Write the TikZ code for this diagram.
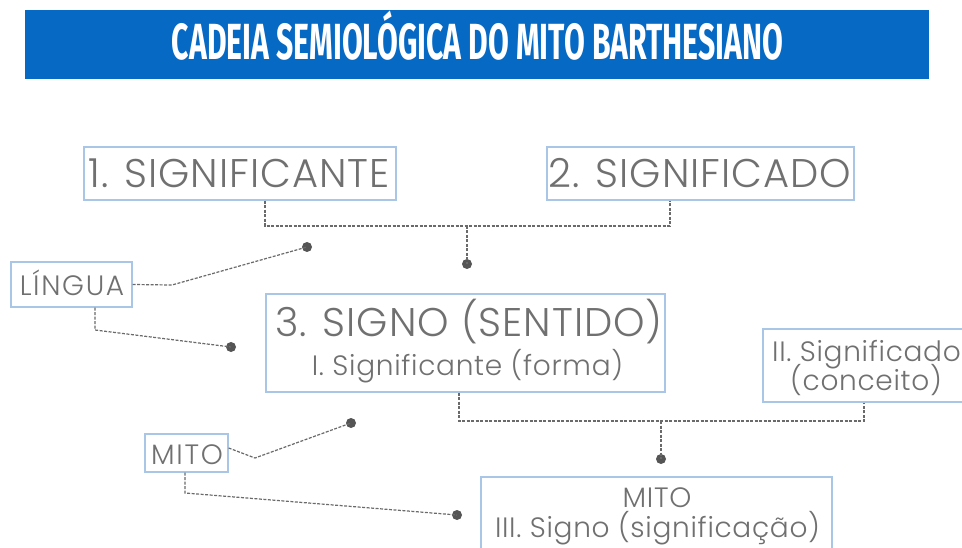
\documentclass[tikz,border=0pt]{standalone}
\usepackage{fontspec}
\setmainfont{Poppins Light}
\newfontfamily\titlefont{Fira Sans}
\newfontfamily\bodyls{Poppins Light}[LetterSpace=2.5]
\newfontfamily\smallls{Poppins Light}[LetterSpace=6]
\definecolor{banner}{HTML}{0669C4}
\definecolor{boxc}{HTML}{A9C6E6}
\definecolor{txtc}{HTML}{707070}
\definecolor{linec}{HTML}{6A6A6A}
\definecolor{dotc}{HTML}{555555}
\begin{document}
\begin{tikzpicture}[x=1pt,y=-1pt,
  box/.style={draw=boxc, line width=1.3pt, inner sep=0pt, rectangle},
  txt/.style={text=txtc, inner sep=0pt, anchor=base},
  big/.style={txt, font=\bodyls\fontsize{40}{40}\selectfont},
  mid/.style={txt, font=\bodyls\fontsize{28}{28}\selectfont},
  small/.style={txt, font=\smallls\fontsize{28}{28}\selectfont},
  conn/.style={draw=linec, line width=1.2pt, dash pattern=on 3pt off 1.5pt},
  dotnode/.style={circle, fill=dotc, inner sep=0pt, minimum size=10pt}]
\clip (0,0) rectangle (962,548);
\fill[white] (0,0) rectangle (962,548);
% title banner
\node[fill=banner, inner sep=0pt, minimum width=904pt, minimum height=69pt] (ban) at (477,44.5) {};
\node[text=white, inner sep=0pt, anchor=base] (title) at (477.5,60)
  {\resizebox{611pt}{\height}{\titlefont\bfseries\fontsize{50.8}{50.8}\selectfont CADEIA SEMIOLÓGICA DO MITO BARTHESIANO}};
% boxes
\node[box, minimum width=312pt, minimum height=53pt] (s1) at (240,173.5) {};
\node[big] (s1t) at (239,188) {1. SIGNIFICANTE};
\node[box, minimum width=307pt, minimum height=53pt] (s2) at (700.5,173.5) {};
\node[big] (s2t) at (700,188) {2. SIGNIFICADO};
\node[box, minimum width=121pt, minimum height=45pt] (lg) at (71.5,284.5) {};
\node[small] (lgt) at (72,296) {LÍNGUA};
\node[box, minimum width=399pt, minimum height=98pt] (s3) at (465.5,343) {};
\node[big] (s3t) at (469,337) {3. SIGNO (SENTIDO)};
\node[mid] (s3u) at (467.5,375) {I. Significante (forma)};
\node[box, minimum width=212pt, minimum height=73pt] (s4) at (869,365.5) {};
\node[mid] (s4t) at (866.5,361) {II. Significado};
\node[mid] (s4u) at (866,390) {(conceito)};
\node[box, minimum width=83pt, minimum height=38pt] (mi) at (186.5,453) {};
\node[small] (mit) at (187,464) {MITO};
\node[box, minimum width=351pt, minimum height=90pt] (s5) at (656.5,522) {};
\node[mid] (s5t) at (657,507) {MITO};
\node[mid] (s5u) at (657.5,537) {III. Signo (significação)};
% junctions and dots
\coordinate (j1) at (467,226);
\coordinate (j2) at (661,421);
\node[dotnode] (d1) at (467,264) {};
\node[dotnode] (d2) at (307,247) {};
\node[dotnode] (d3) at (231,347) {};
\node[dotnode] (d4) at (661,459) {};
\node[dotnode] (d5) at (351,423) {};
\node[dotnode] (d6) at (457,515) {};
\coordinate (b1) at (172,285);
\coordinate (b2) at (95,330);
\coordinate (b3) at (255,458);
\coordinate (b4) at (185,493);
% connectors
\draw[conn] ([xshift=25pt]s1.south) |- (j1) -| ([xshift=-30.5pt]s2.south);
\draw[conn] (j1) -- (d1.center);
\draw[conn] (lg.east) -- (b1) -- (d2.center);
\draw[conn] ([xshift=23.5pt]lg.south) -- (b2) -- (d3.center);
\draw[conn] ([xshift=-6.5pt]s3.south) |- (j2) -| ([xshift=-5pt]s4.south);
\draw[conn] (j2) -- (d4.center);
\draw[conn] ([yshift=5pt]mi.east) -- (b3) -- (d5.center);
\draw[conn] ([xshift=-1.5pt]mi.south) -- (b4) -- (d6.center);
\end{tikzpicture}
\end{document}
